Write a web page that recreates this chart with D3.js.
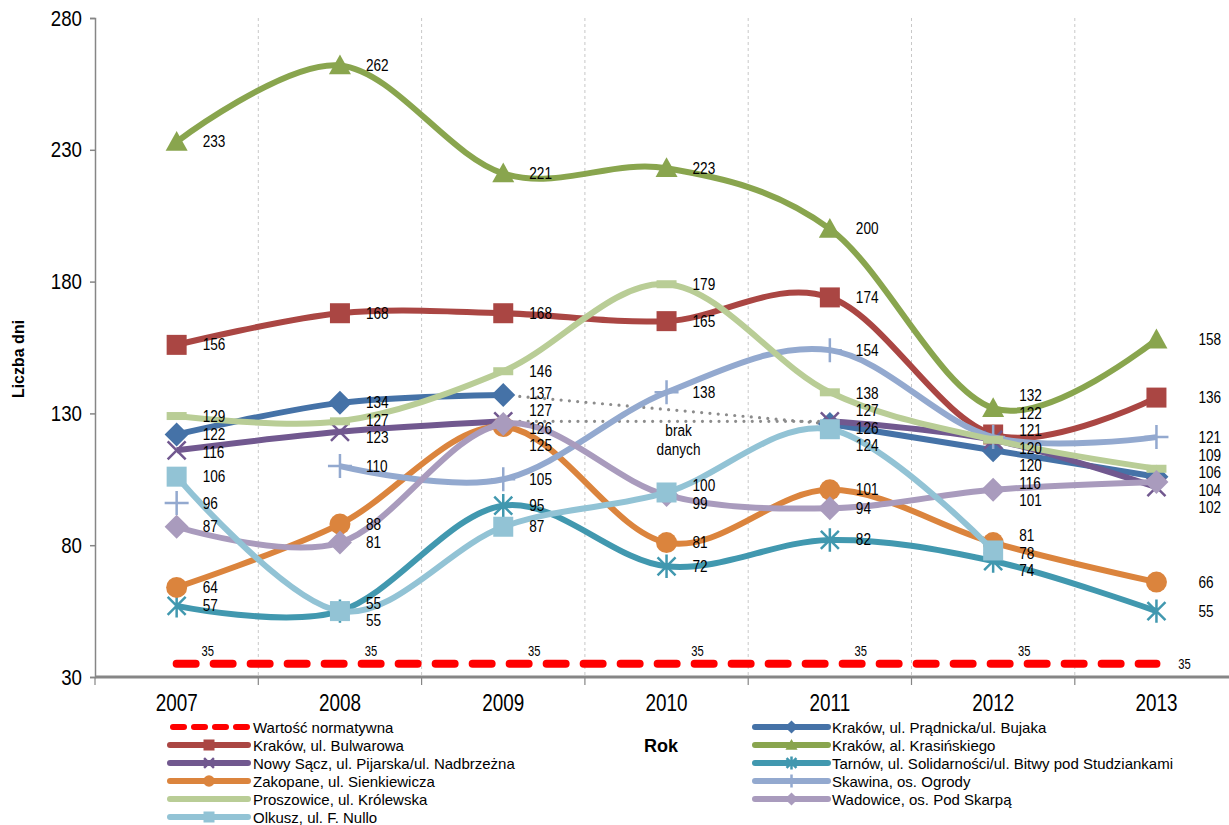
<!DOCTYPE html>
<html><head><meta charset="utf-8">
<script src="https://cdn.jsdelivr.net/npm/d3@7"></script>
<style>
body{margin:0;background:#fff;}
svg{display:block;}
</style></head><body>
<svg id="chart" width="1229" height="825"></svg>
<script>
// ---------- DATA ----------
const years = ["2007","2008","2009","2010","2011","2012","2013"];
const yTicks = [30,80,130,180,230,280];
const seriesNames = [
  "Wartość normatywna",
  "Kraków, ul. Prądnicka/ul. Bujaka",
  "Kraków, ul. Bulwarowa",
  "Kraków, al. Krasińskiego",
  "Nowy Sącz, ul. Pijarska/ul. Nadbrzeżna",
  "Tarnów, ul. Solidarności/ul. Bitwy pod Studziankami",
  "Zakopane, ul. Sienkiewicza",
  "Skawina, os. Ogrody",
  "Proszowice, ul. Królewska",
  "Wadowice, os. Pod Skarpą",
  "Olkusz, ul. F. Nullo"
];
const normValues        = [35,35,35,35,35,35,35];
const pradnickaValues   = [122,134,137,null,126,116,106];
const bulwarowaValues   = [156,168,168,165,174,122,136];
const krasinskiegoValues= [233,262,221,223,200,132,158];
const nowySaczValues    = [116,123,127,null,127,120,102];
const tarnowValues      = [57,55,95,72,82,74,55];
const zakopaneValues    = [64,88,125,81,101,81,66];
const skawinaValues     = [96,110,105,138,154,121,121];
const proszowiceValues  = [129,127,146,179,138,120,109];
const wadowiceValues    = [87,81,126,99,94,101,104];
const olkuszValues      = [106,55,87,100,124,78,null];
const seriesValues = [normValues,pradnickaValues,bulwarowaValues,krasinskiegoValues,nowySaczValues,
  tarnowValues,zakopaneValues,skawinaValues,proszowiceValues,wadowiceValues,olkuszValues];
const seriesColors = ["#FF0000","#4572A7","#AA4643","#89A54E","#71588F","#4198AF","#DB843D","#93A9CF","#B9CD96","#A99BBD","#92C3D5"];
const seriesMarkers = ["none","diamond","square","triangle","x","star","circle","plus","dash","diamond","square"];
// points shown as markers only (not joined by the line)
const unlinkedPoints = {"Skawina, os. Ogrody": ["2007"]};
const missingNote = ["brak", "danych"];
const xTitle = "Rok";
const yTitle = "Liczba dni";

// ---------- LAYOUT ----------
const W = 1229, H = 825;
const plotLeft = 95, plotTop = 18, plotBottom = 677, bandW = 163.3;
const SANS = '"Liberation Sans",Arial,sans-serif';

const svg = d3.select("#chart");
const x = d3.scaleBand().domain(years).range([plotLeft, plotLeft + bandW*years.length]);
const cx = d => x(d) + x.bandwidth()/2;
const y = d3.scaleLinear().domain([30,280]).range([plotBottom, plotTop]);

// condense text horizontally (reference uses a narrow face)
function condense(sel, ratio) {
  sel.each(function() {
    const len = this.getComputedTextLength();
    d3.select(this).attr("textLength", len*ratio).attr("lengthAdjust", "spacingAndGlyphs");
  });
}

// gridlines (vertical dashed at band boundaries)
const bounds = years.slice(1).map(d => x(d));
svg.append("g").selectAll("line").data(bounds).join("line")
  .attr("x1", d=>d).attr("x2", d=>d).attr("y1", plotTop).attr("y2", plotBottom)
  .attr("stroke", "#c8c8c8").attr("stroke-width", 1).attr("stroke-dasharray", "3,3");

// Y axis
const yAxis = svg.append("g").attr("transform", `translate(${plotLeft},0)`)
  .call(d3.axisLeft(y).tickValues(yTicks).tickSize(5).tickPadding(8).tickFormat(d3.format("d")));
yAxis.select(".domain").attr("stroke", "#868686").attr("stroke-width", 1.5);
yAxis.selectAll(".tick line").attr("stroke", "#868686").attr("stroke-width", 1.5);
yAxis.selectAll(".tick text").attr("font-family", SANS).attr("font-size", 22).attr("fill", "#000");
condense(yAxis.selectAll(".tick text"), 0.85);

// X axis
const xAxis = svg.append("g").attr("transform", `translate(0,${plotBottom})`)
  .call(d3.axisBottom(x).tickSize(0).tickPadding(0));
xAxis.select(".domain").remove();
xAxis.selectAll(".tick text").attr("font-family", SANS).attr("font-size", 23).attr("fill", "#000")
  .attr("dy", null).attr("y", 34);
condense(xAxis.selectAll(".tick text"), 0.82);
svg.append("line").attr("x1", plotLeft).attr("x2", W).attr("y1", plotBottom).attr("y2", plotBottom)
  .attr("stroke", "#868686").attr("stroke-width", 3);
svg.append("g").selectAll("line").data([plotLeft, ...bounds]).join("line")
  .attr("x1", d=>d).attr("x2", d=>d).attr("y1", plotBottom).attr("y2", plotBottom+8)
  .attr("stroke", "#868686").attr("stroke-width", 1.2);

// Axis titles
svg.append("text").attr("transform", "translate(24,359) rotate(-90)").attr("text-anchor", "middle")
  .attr("font-family", SANS).attr("font-weight", "bold").attr("font-size", 16).text(yTitle);
svg.append("text").attr("x", 661).attr("y", 752).attr("text-anchor", "middle")
  .attr("font-family", SANS).attr("font-weight", "bold").attr("font-size", 18).text(xTitle);

// ---------- MARKERS ----------
function drawMarker(g, type, color, px, py, s) {
  if (type === "square") {
    g.append("rect").attr("x", px-10*s).attr("y", py-10*s).attr("width", 20*s).attr("height", 20*s).attr("fill", color);
  } else if (type === "diamond") {
    const r = 12*s;
    g.append("path").attr("d", `M${px},${py-r}L${px+r},${py}L${px},${py+r}L${px-r},${py}Z`).attr("fill", color);
  } else if (type === "triangle") {
    const r = 11*s;
    g.append("path").attr("d", `M${px},${py-r}L${px+r},${py+r*0.8}L${px-r},${py+r*0.8}Z`).attr("fill", color);
  } else if (type === "circle") {
    g.append("circle").attr("cx", px).attr("cy", py).attr("r", 10.5*s).attr("fill", color);
  } else if (type === "x") {
    const r = 9*s;
    g.append("path").attr("d", `M${px-r},${py-r}L${px+r},${py+r}M${px-r},${py+r}L${px+r},${py-r}`)
      .attr("stroke", color).attr("stroke-width", 2.5).attr("fill", "none");
  } else if (type === "star") {
    const r = 9*s;
    g.append("path").attr("d", `M${px-r},${py-r}L${px+r},${py+r}M${px-r},${py+r}L${px+r},${py-r}M${px},${py-r*1.3}L${px},${py+r*1.3}`)
      .attr("stroke", color).attr("stroke-width", 2.5).attr("fill", "none");
  } else if (type === "plus") {
    const r = 12*s;
    g.append("path").attr("d", `M${px-r},${py}L${px+r},${py}M${px},${py-r}L${px},${py+r}`)
      .attr("stroke", color).attr("stroke-width", 2.5).attr("fill", "none");
  } else if (type === "dash") {
    g.append("rect").attr("x", px-10*s).attr("y", py-4*s).attr("width", 20*s).attr("height", 8*s).attr("fill", color);
  }
}

// ---------- SERIES ----------
const lineGen = d3.line().defined(d => d.v !== null && d.linked)
  .x(d => cx(d.year)).y(d => y(d.v)).curve(d3.curveCatmullRom.alpha(0));

const seriesData = seriesNames.map((name, si) => ({
  name, color: seriesColors[si], marker: seriesMarkers[si],
  pts: years.map((yr, i) => ({year: yr, i, v: seriesValues[si][i],
    linked: !((unlinkedPoints[name] || []).includes(yr))}))
}));

// dotted connectors across missing data
const gaps = svg.append("g");
seriesData.forEach(s => {
  s.pts.forEach((p, i) => {
    if (p.v === null && i > 0 && i < s.pts.length-1 && s.pts[i-1].v !== null && s.pts[i+1].v !== null) {
      const a = s.pts[i-1], b = s.pts[i+1];
      gaps.append("line").attr("x1", cx(a.year)).attr("y1", y(a.v)).attr("x2", cx(b.year)).attr("y2", y(b.v))
        .attr("stroke", "#8c8c8c").attr("stroke-width", 3.2).attr("stroke-linecap", "round")
        .attr("stroke-dasharray", "0,8.3");
    }
  });
});

const seriesG = svg.append("g");
seriesData.forEach((s, si) => {
  const g = seriesG.append("g");
  if (si === 0) {
    g.append("path").attr("d", d3.line().x(d => cx(d.year)).y(d => y(d.v))(s.pts))
      .attr("fill", "none").attr("stroke", s.color).attr("stroke-width", 8)
      .attr("stroke-linecap", "round").attr("stroke-dasharray", "19,18");
    return;
  }
  g.append("path").attr("d", lineGen(s.pts)).attr("fill", "none").attr("stroke", s.color)
    .attr("stroke-width", 6).attr("stroke-linejoin", "round");
  s.pts.filter(p => p.v !== null).forEach(p => drawMarker(g, s.marker, s.color, cx(p.year), y(p.v), 1));
});

// missing data note
const noteX = cx("2010") + 12;
const noteG = svg.append("g").attr("font-family", SANS).attr("font-size", 16);
noteG.append("text").attr("x", noteX).attr("y", 430).attr("text-anchor", "middle").attr("dominant-baseline", "central")
  .text(missingNote[0]);
noteG.append("text").attr("x", noteX).attr("y", 449).attr("text-anchor", "middle").attr("dominant-baseline", "central")
  .text(missingNote[1]);
condense(noteG.selectAll("text"), 0.85);

// ---------- DATA LABELS ----------
const labelG = svg.append("g").attr("font-family", SANS).attr("font-size", 16).attr("fill", "#000");
const GAP = 17.5, BIAS = 0.45;
years.forEach((yr, i) => {
  const items = [];
  seriesData.forEach((s, si) => {
    if (si === 0) return;
    const v = s.pts[i].v;
    if (v !== null) items.push({v, ty: y(v)});
  });
  items.sort((a, b) => a.ty - b.ty);
  let clusters = items.map(d => ({items: [d]}));
  const top = c => d3.mean(c.items, d => d.ty) - (c.items.length-1)*GAP*BIAS;
  let changed = true;
  while (changed) {
    changed = false;
    for (let k = 0; k < clusters.length-1; k++) {
      const a = clusters[k], b = clusters[k+1];
      if (top(b) - (top(a) + (a.items.length-1)*GAP) < GAP) {
        clusters.splice(k, 2, {items: a.items.concat(b.items)});
        changed = true; break;
      }
    }
  }
  const offX = i === years.length-1 ? 42 : 26;
  clusters.forEach(c => {
    const t = top(c);
    c.items.forEach((d, j) => {
      labelG.append("text").attr("class", "dl").attr("x", cx(yr) + offX).attr("y", t + j*GAP)
        .attr("dominant-baseline", "central").text(d.v);
    });
  });
  // normative label
  const nv = seriesData[0].pts[i].v;
  const last = i === years.length-1;
  labelG.append("text").attr("class", "nl").attr("x", cx(yr) + (last ? 28 : 31)).attr("y", last ? y(nv) : y(nv) - 13)
    .attr("text-anchor", "middle").attr("dominant-baseline", "central").attr("font-size", 14).text(nv);
});
condense(labelG.selectAll("text.dl"), 0.85);
condense(labelG.selectAll("text.nl"), 0.8);

// ---------- LEGEND ----------
const legend = svg.append("g").attr("font-family", SANS).attr("font-size", 15);
seriesData.forEach((s, si) => {
  const col = si % 2, row = Math.floor(si / 2);
  const x1 = col === 0 ? 170 : 755, x2 = col === 0 ? 248 : 828, tx = col === 0 ? 253 : 832;
  const ly = 727 + row*18;
  const g = legend.append("g");
  if (si === 0) {
    g.append("line").attr("x1", x1+3).attr("x2", x2).attr("y1", ly).attr("y2", ly)
      .attr("stroke", s.color).attr("stroke-width", 6).attr("stroke-linecap", "round").attr("stroke-dasharray", "11,10");
  } else {
    g.append("line").attr("x1", x1).attr("x2", x2).attr("y1", ly).attr("y2", ly)
      .attr("stroke", s.color).attr("stroke-width", 6).attr("stroke-linecap", "round");
    drawMarker(g, s.marker, s.color, (x1+x2)/2, ly, 0.55);
  }
  g.append("text").attr("x", tx).attr("y", ly).attr("dominant-baseline", "central").text(s.name);
});
</script>
</body></html>
